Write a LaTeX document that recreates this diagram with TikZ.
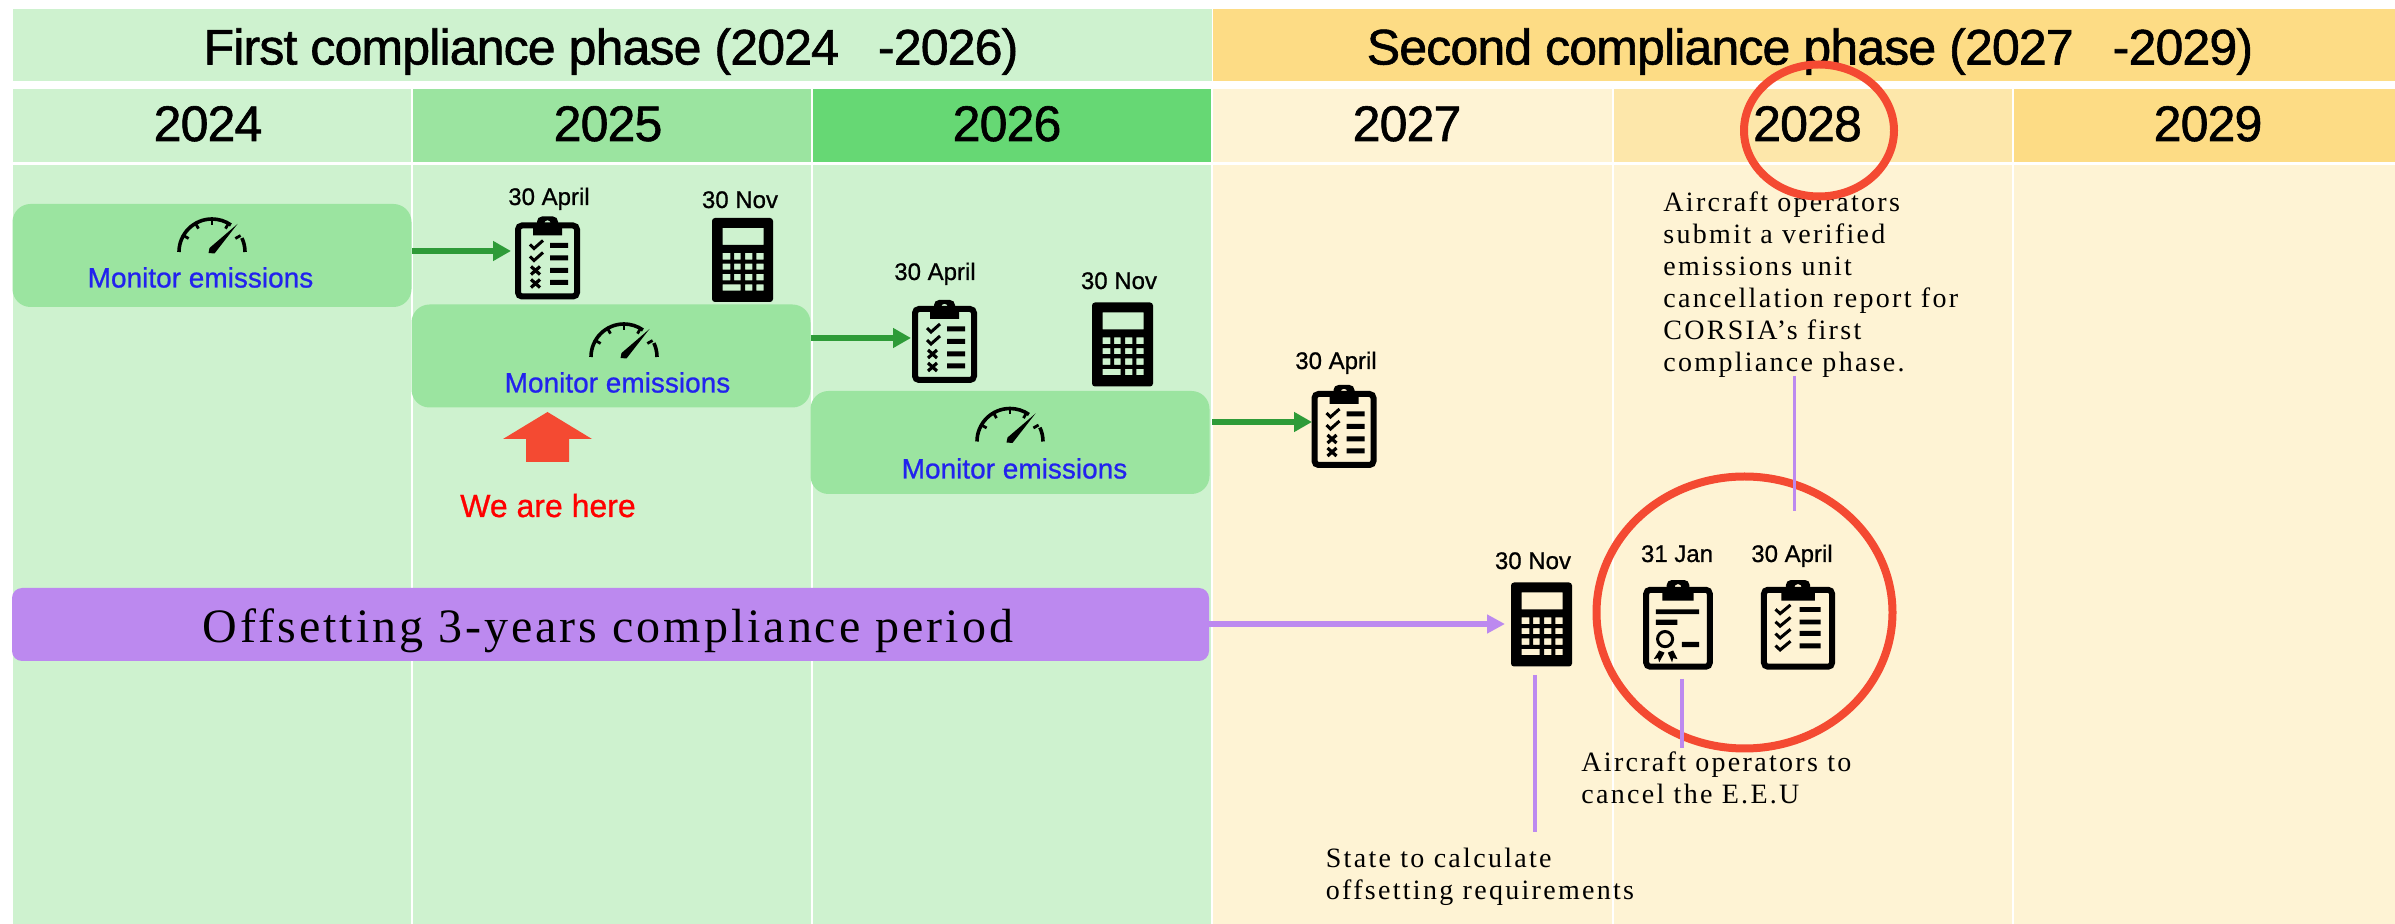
\documentclass[tikz,border=0pt]{standalone}
\usepackage{fontspec}
\setmainfont{Liberation Sans}
\newfontfamily\hdfont[LetterSpace=-1.7,FakeBold=1.2]{Liberation Sans}
\newfontfamily\smfont[FakeBold=0.8]{Liberation Sans}
\newfontfamily\serifspacedbig[LetterSpace=6.2]{Liberation Serif}
\newfontfamily\serifspaced[LetterSpace=8.2]{Liberation Serif}
\usetikzlibrary{arrows.meta,calc,shapes.geometric}
\definecolor{gLight}{HTML}{CEF2CF}
\definecolor{gMid}{HTML}{9BE4A0}
\definecolor{gStrong}{HTML}{66D874}
\definecolor{yLight}{HTML}{FEF3D4}
\definecolor{yMid}{HTML}{FDE7AA}
\definecolor{yStrong}{HTML}{FDDC85}
\definecolor{purp}{HTML}{BC89EF}
\definecolor{garrow}{HTML}{2E9B38}
\definecolor{redm}{HTML}{F44A32}
\definecolor{blueT}{HTML}{2222EE}
\newcommand{\drawboard}{%
  \begin{scope}[shift={(-32.5,-41.5)}]
    \draw[line width=3pt,rounded corners=2pt] (3,9) rectangle (62,80);
    \fill[even odd rule] (18,19) -- (18,7) -- (22,7) [rounded corners=2.5pt]-- (22,0) -- (43,0) [sharp corners]-- (43,7) -- (47,7) -- (47,19) -- cycle (32.5,7) circle [radius=3.3];
  \end{scope}}
\newcommand{\drawlist}{%
  \drawboard
  \begin{scope}[shift={(-32.5,-41.5)}]
    \fill (35,26.5) rectangle (53,31.5) (35,39) rectangle (53,44) (35,51.5) rectangle (53,56.5) (35,63.5) rectangle (53,68.5);
    \foreach \yy in {28,40}{\draw[line width=1.5pt] (15,\yy) -- (19,\yy+4) -- (28,\yy-4);}
    \foreach \yy in {54,67}{\draw[line width=1.6pt] (16,\yy-4) -- (25,\yy+4) (25,\yy-4) -- (16,\yy+4);}
  \end{scope}}
\newcommand{\drawchecks}{%
  \drawboard
  \begin{scope}[shift={(-32.5,-41.5)}]
    \fill (34,25) rectangle (52,29.5) (34,36.5) rectangle (52,41) (34,47) rectangle (52,51.5) (34,58.5) rectangle (52,63);
    \foreach \yy in {27,38.5,49.5,60.5}{\draw[line width=1.5pt] (13,\yy) -- (17,\yy+4) -- (26,\yy-4);}
  \end{scope}}
\newcommand{\drawcert}{%
  \drawboard
  \begin{scope}[shift={(-32.5,-41.5)}]
    \fill (12,27) rectangle (52,31.5) (12,36.5) rectangle (32,41.5) (36,57) rectangle (52,62);
    \draw[line width=1.5pt] (20.5,54.5) circle [radius=7];
    \fill (15,65) -- (20,67) -- (15,76) -- (14,72) -- (10,73) -- cycle;
    \fill (23,67) -- (28,65) -- (32,73) -- (28,72) -- (27,76) -- cycle;
  \end{scope}}
\newcommand{\drawcalc}{%
  \begin{scope}[shift={(-30.5,-42)}]
    \fill[even odd rule] [rounded corners=1.5pt] (0,0) rectangle (61,84)
      [sharp corners] (10.7,10) rectangle (51.5,27)
      (10.7,35) rectangle (18.4,41.7) (22,35) rectangle (28.6,41.7) (33.2,35) rectangle (40.3,41.7) (44.4,35) rectangle (51.5,41.7)
      (10.7,45.7) rectangle (18.4,51.7) (22,45.7) rectangle (28.6,51.7) (33.2,45.7) rectangle (40.3,51.7) (44.4,45.7) rectangle (51.5,51.7)
      (10.7,56) rectangle (18.4,62.3) (22,56) rectangle (28.6,62.3) (33.2,56) rectangle (40.3,62.3) (44.4,56) rectangle (51.5,62.3)
      (10.7,66.3) rectangle (28.6,72.7) (33.2,66.3) rectangle (40.3,72.7) (44.4,66.3) rectangle (51.5,72.7);
  \end{scope}}
\newcommand{\drawgauge}{%
  \begin{scope}[shift={(-34.5,-19)}]
    \begin{scope}[shift={(34.5,37)}]
      \draw[line width=1.8pt] (180:33) arc[start angle=180,end angle=305,radius=33];
      \draw[line width=1.8pt] (335:33) arc[start angle=335,end angle=360,radius=33];
      \foreach \aa in {210,240,270,300,330}{\draw[line width=1.4pt] (\aa:33) -- (\aa:27);}
    \end{scope}
    \fill (60,9) -- (37,38.5) -- (31,38) -- (32,33) -- cycle;
  \end{scope}}
\newcommand{\placeicon}[4]{\begin{scope}[shift={(#1)},xscale=#2,yscale=#3]#4\end{scope}}
\tikzset{
  x=0.5pt,y=-0.5pt,
  headtext/.style={font=\hdfont\fontsize{25}{30}\selectfont,anchor=base,inner sep=0pt,text=black},
  yeartext/.style={font=\hdfont\fontsize{25}{30}\selectfont,anchor=base,inner sep=0pt,text=black},
  datetext/.style={font=\smfont\fontsize{12}{14}\selectfont,anchor=base,inner sep=0pt,text=black},
  montext/.style={font=\smfont\fontsize{14}{16}\selectfont,anchor=base,inner sep=0pt,text=blueT},
  monbox/.style={fill=gMid,rounded corners=9pt,minimum width=199.5pt,minimum height=51.5pt,inner sep=0pt,draw=none},
  notetext/.style={font=\serifspaced\fontsize{14}{16}\selectfont,anchor=north west,inner sep=0pt,align=left,text=black},
  iconbox/.style n args={2}{minimum width=0.5pt*#1,minimum height=0.5pt*#2,inner sep=0pt,draw=none},
  greenarrow/.style={draw=garrow,line width=3pt,-{Triangle[length=9pt,width=9.5pt]}},
  purplearrow/.style={draw=purp,line width=3.2pt,-{Triangle[length=9pt,width=9pt]}},
  purpleline/.style={draw=purp,line width=1.75pt},
  redring/.style={draw=redm,line width=4pt,ellipse,inner sep=0pt,fill=none}
}
\begin{document}
\begin{tikzpicture}
\useasboundingbox (0,0) rectangle (2395,924);
\fill[white] (0,0) rectangle (2395,924);
% header bars
\fill[gLight] (13,9) rectangle (1212,81);
\fill[yStrong] (1213,9) rectangle (2395,81);
% year cells
\fill[gLight] (13,89) rectangle (412,162);
\fill[gMid] (412,89) rectangle (812,162);
\fill[gStrong] (812,89) rectangle (1212,162);
\fill[yLight] (1212,89) rectangle (1612.5,162);
\fill[yMid] (1612.5,89) rectangle (2012.5,162);
\fill[yStrong] (2012.5,89) rectangle (2395,162);
% body
\fill[gLight] (13,165) rectangle (1212,924);
\fill[yLight] (1212,165) rectangle (2395,924);
\foreach \xx in {412,812,1212,1612.5,2012.5}{
  \draw[white,line width=1pt] (\xx,89) -- (\xx,162);
  \draw[white,line width=1pt] (\xx,165) -- (\xx,924);
}
% titles
\node[headtext] (ph1) at (611,64.5) {First compliance phase (2024\ \ \ -2026)};
\node[headtext] (ph2) at (1810,64.5) {Second compliance phase (2027\ \ \ -2029)};
\node[yeartext] (y24) at (208,141) {2024};
\node[yeartext] (y25) at (608,141) {2025};
\node[yeartext] (y26) at (1007,141) {2026};
\node[yeartext] (y27) at (1407,141) {2027};
\node[yeartext] (y28) at (1807.5,141) {2028};
\node[yeartext] (y29) at (2208,141) {2029};
% monitor boxes
\node[monbox] (mon1) at (212,255.5) {};
\node[monbox] (mon2) at (611,356) {};
\node[monbox] (mon3) at (1010,442.5) {};
\placeicon{212,234}{1}{1}{\drawgauge}
\placeicon{624,339}{1}{1}{\drawgauge}
\placeicon{1010,423.5}{1}{1}{\drawgauge}
\node[montext] (mt1) at (200.5,287.5) {Monitor emissions};
\node[montext] (mt2) at (617.5,392.5) {Monitor emissions};
\node[montext] (mt3) at (1014.5,478.5) {Monitor emissions};
% icons
\node[iconbox={65}{83}] (clip1) at (547.5,258) {};
\placeicon{clip1}{1}{1}{\drawlist}
\node[iconbox={61}{84}] (calc1) at (742.5,260) {};
\placeicon{calc1}{1}{1}{\drawcalc}
\node[iconbox={65}{83}] (clip2) at (944.5,341.5) {};
\placeicon{clip2}{1}{1}{\drawlist}
\node[iconbox={61}{84}] (calc2) at (1122.5,344.5) {};
\placeicon{calc2}{1}{1}{\drawcalc}
\node[iconbox={65}{83}] (clip3) at (1344,426.5) {};
\placeicon{clip3}{1}{1}{\drawlist}
\node[iconbox={61}{84}] (calc3) at (1541.5,624.5) {};
\placeicon{calc3}{1}{1}{\drawcalc}
\node[iconbox={70}{90}] (cert) at (1678,625) {};
\placeicon{cert}{1.077}{1.084}{\drawcert}
\node[iconbox={76}{90}] (chk) at (1798,625) {};
\placeicon{chk}{1.154}{1.084}{\drawchecks}
% date labels
\node[datetext] (d1) at (549,205) {30 April};
\node[datetext] (d2) at (740,208) {30 Nov};
\node[datetext] (d3) at (935,280) {30 April};
\node[datetext] (d4) at (1119,289) {30 Nov};
\node[datetext] (d5) at (1336,369) {30 April};
\node[datetext] (d6) at (1533,569) {30 Nov};
\node[datetext] (d7) at (1677,562) {31 Jan};
\node[datetext] (d8) at (1792,562) {30 April};
% we are here
\fill[redm] (547.5,412) -- (592,439) -- (569,439) -- (569,462) -- (526,462) -- (526,439) -- (503,439) -- cycle;
\node[font=\smfont\fontsize{16}{18}\selectfont,anchor=base,inner sep=0pt,text=red] (here) at (548,517) {We are here};
% offset bar
\node[fill=purp,rounded corners=5pt,minimum width=598.5pt,minimum height=36.5pt,inner sep=0pt] (bar) at (610.5,624.5) {};
\node[font=\serifspacedbig\fontsize{24}{28}\selectfont,anchor=base,inner sep=0pt,text=black] (bart) at (608,643) {Offsetting 3-years compliance period};
% notes
\node[notetext] (n1) at (1663,191) {\setlength{\baselineskip}{15.9pt}Aircraft operators\\submit a verified\\emissions unit\\cancellation report for\\CORSIA’s first\\compliance phase.};
\node[notetext] (n2) at (1581,751) {\setlength{\baselineskip}{16pt}Aircraft operators to\\cancel the E.E.U};
\node[notetext] (n3) at (1325.5,848) {\setlength{\baselineskip}{15.7pt}State to calculate\\offsetting requirements};
% red rings
\node[redring,minimum width=75pt,minimum height=66pt] (ring1) at (1819,130.5) {};
\node[redring,minimum width=148pt,minimum height=136pt] (ring2) at (1744.5,612.5) {};
% connectors
\coordinate (ga1) at (511,251);
\coordinate (ga2) at (911,338);
\coordinate (ga3) at (1312,422);
\coordinate (pa1) at (1505,624);
\coordinate (ga3s) at (1212,422);
\draw[greenarrow] (mon1.east |- ga1) -- (ga1);
\draw[greenarrow] (mon2.east |- ga2) -- (ga2);
\draw[greenarrow] (ga3s) -- (ga3);
\draw[purplearrow] (bar.east |- pa1) -- (pa1);
\coordinate (l1a) at (1535,675);
\coordinate (l1b) at (1535,832);
\coordinate (l2a) at (1682,679);
\coordinate (l2b) at (1682,748);
\coordinate (l3a) at (1794.5,376);
\coordinate (l3b) at (1794.5,511);
\draw[purpleline] (l1a) -- (l1b);
\draw[purpleline] (l2a) -- (l2b);
\draw[purpleline] (l3a) -- (l3b);
\end{tikzpicture}
\end{document}
